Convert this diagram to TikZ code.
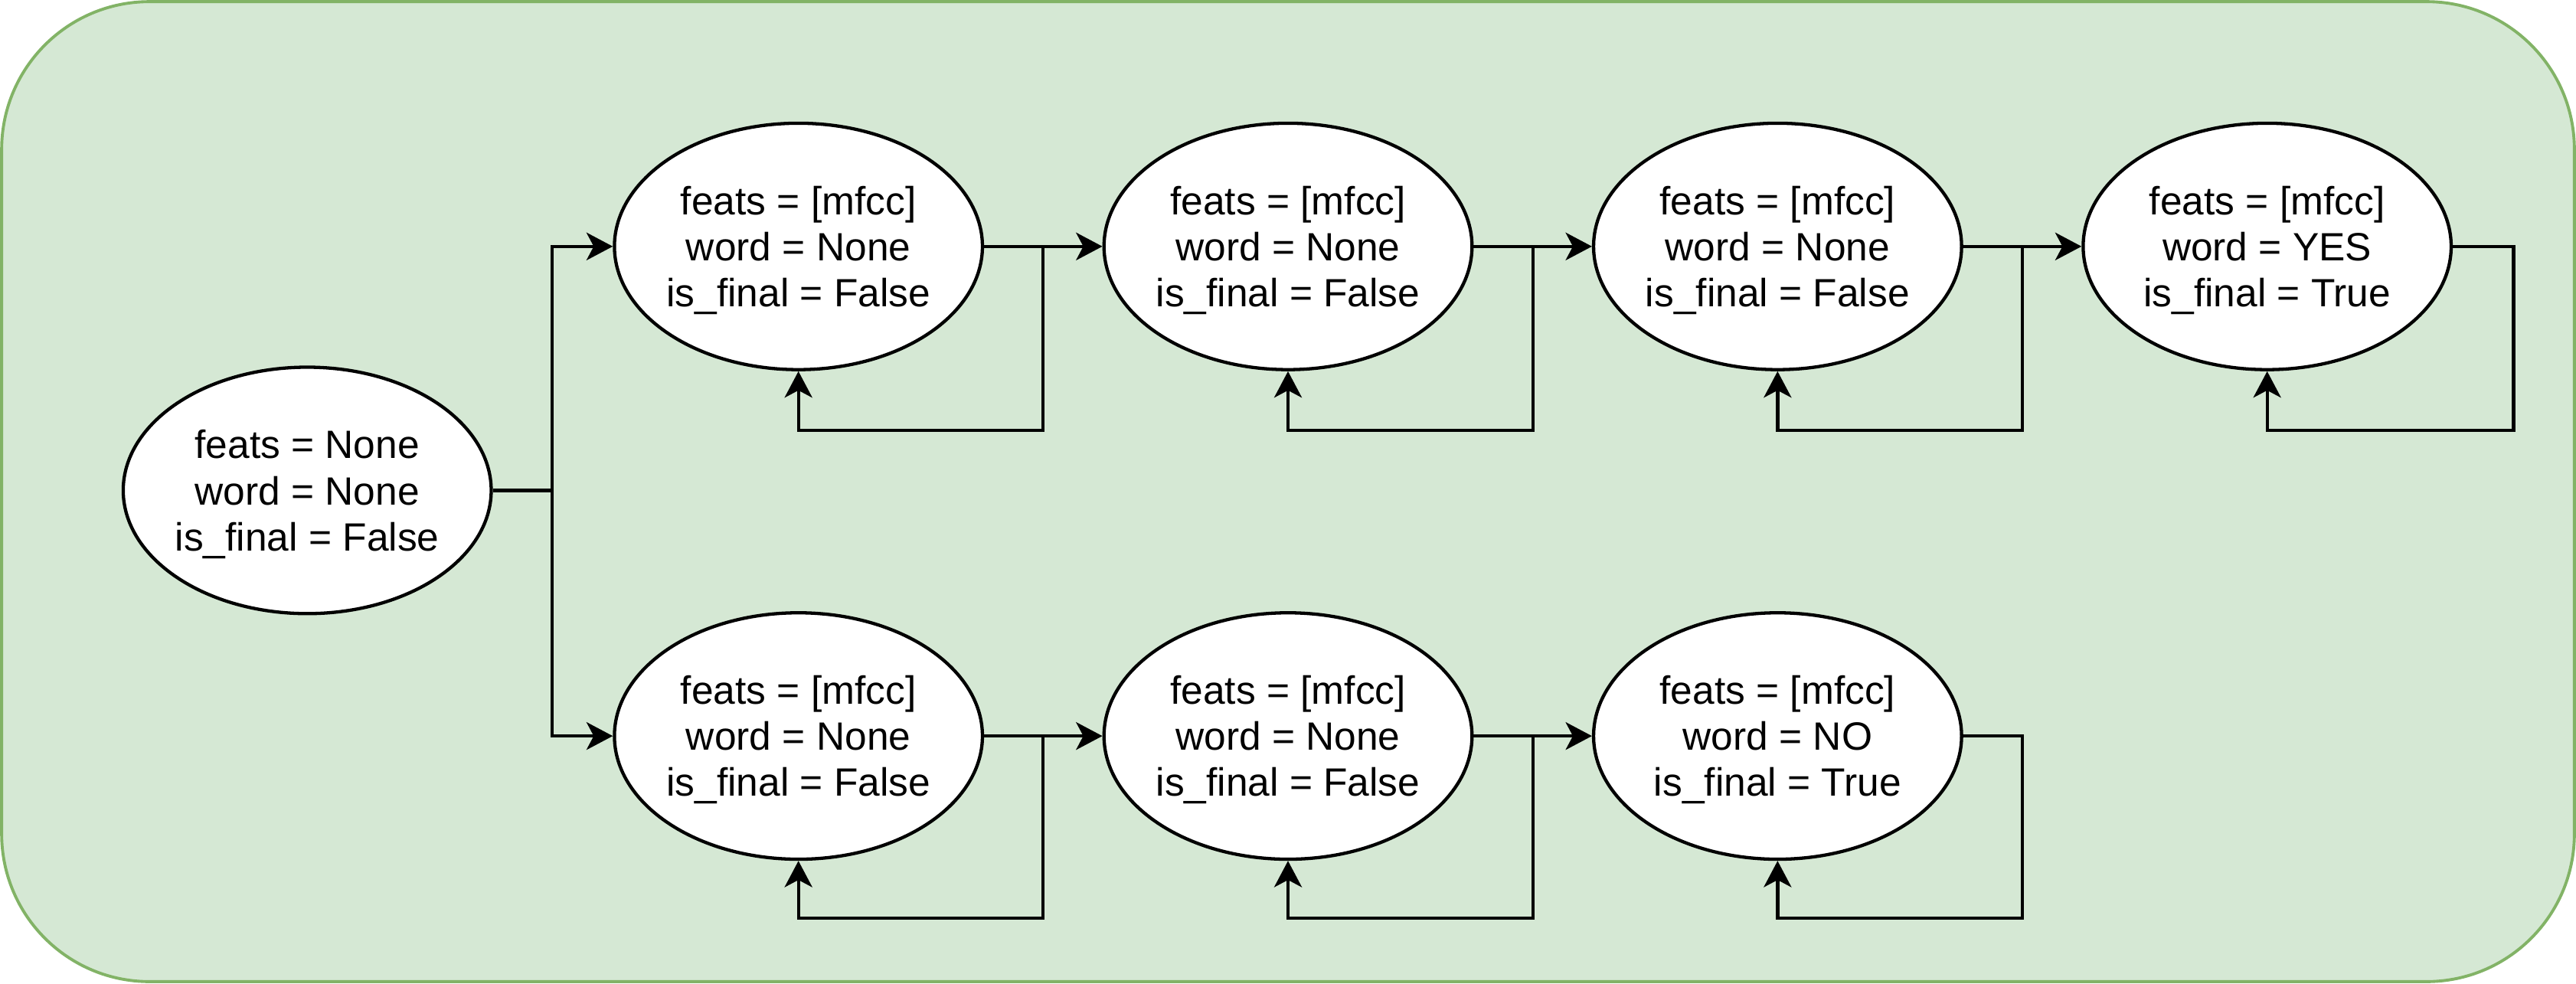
\documentclass[tikz,border=0pt]{standalone}
\usepackage{fontspec}
\setmainfont{Liberation Sans}
\usetikzlibrary{shapes.geometric,arrows.meta}
\definecolor{boxfill}{HTML}{D5E8D4}
\definecolor{boxline}{HTML}{82B366}

\begin{document}
\begin{tikzpicture}[x=0.5pt,y=-0.5pt,
  hmm/.style={ellipse,draw,line width=1pt,fill=white,minimum width=112pt,minimum height=75pt,
    inner sep=0pt,inner xsep=-4pt,text depth=0pt,align=center,font=\fontsize{12pt}{14pt}\selectfont},
  link/.style={line width=1pt,-{Stealth[length=8pt,width=8.4pt,inset=2.2pt]}}]
\useasboundingbox (0,0) rectangle (1568,598.5);
\draw[boxline,fill=boxfill,line width=0.9pt,rounded corners=45pt] (1,1) rectangle (1567,597.5);

\node[hmm] at (187,298.5) (s0) {feats = None\\word = None\\is\_final = False};

\node[hmm] at (486,150) (y1) {feats = [mfcc]\\word = None\\is\_final = False};
\node[hmm] at (784,150) (y2) {feats = [mfcc]\\word = None\\is\_final = False};
\node[hmm] at (1082,150) (y3) {feats = [mfcc]\\word = None\\is\_final = False};
\node[hmm] at (1380,150) (y4) {feats = [mfcc]\\word = YES\\is\_final = True};

\node[hmm] at (486,448) (n1) {feats = [mfcc]\\word = None\\is\_final = False};
\node[hmm] at (784,448) (n2) {feats = [mfcc]\\word = None\\is\_final = False};
\node[hmm] at (1082,448) (n3) {feats = [mfcc]\\word = NO\\is\_final = True};

\coordinate (fork) at (336,298.5);
\draw[link] (s0.east) -- (fork) |- (y1.west);
\draw[link] (fork) |- (n1.west);

\draw[link] (y1) -- (y2);
\draw[link] (y2) -- (y3);
\draw[link] (y3) -- (y4);
\draw[link] (n1) -- (n2);
\draw[link] (n2) -- (n3);

% self loops
\coordinate (ly1) at (635,262);
\coordinate (ly2) at (933,262);
\coordinate (ly3) at (1231,262);
\coordinate (ly4) at (1530,262);
\coordinate (ln1) at (635,559);
\coordinate (ln2) at (933,559);
\coordinate (ln3) at (1231,559);
\draw[link] (y1.east) -| (ly1) -| (y1.south);
\draw[link] (y2.east) -| (ly2) -| (y2.south);
\draw[link] (y3.east) -| (ly3) -| (y3.south);
\draw[link] (y4.east) -| (ly4) -| (y4.south);
\draw[link] (n1.east) -| (ln1) -| (n1.south);
\draw[link] (n2.east) -| (ln2) -| (n2.south);
\draw[link] (n3.east) -| (ln3) -| (n3.south);
\end{tikzpicture}
\end{document}
